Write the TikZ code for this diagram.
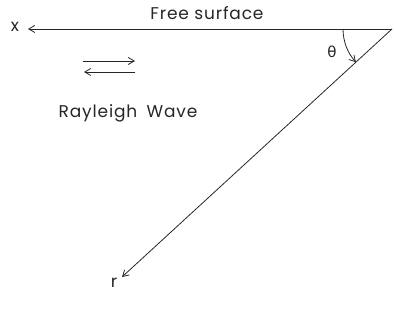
\documentclass[tikz,border=0pt]{standalone}
\usepackage{fontspec}
\setmainfont{Poppins}[LetterSpace=5]
\newfontfamily\greekfont{DejaVu Sans}
\usetikzlibrary{arrows.meta}
\begin{document}
\begin{tikzpicture}[x=1pt,y=-1pt,
  line/.style={line width=0.8pt,draw=black!85},
  tip/.style={-{Straight Barb[length=6pt,width=7pt,line width=0.8pt]}},
  lbl/.style={inner sep=0pt,text=black!85,font=\fontsize{17}{19}\selectfont}]
\useasboundingbox (0,0) rectangle (394,320);
\coordinate (O) at (392,29);
\coordinate (X) at (28,29);
\coordinate (R) at (122,277);
\coordinate (A1) at (83,61);
\coordinate (A2) at (135,61);
\coordinate (B1) at (135,72);
\coordinate (B2) at (84,72);
\node[lbl] (fs) at (207,13) {Free surface};
\node[lbl] (xl) at (15,27) {x};
\node[lbl,font=\greekfont\fontsize{15}{17}\selectfont] (th) at (332,52) {θ};
\node[lbl] (rl) at (114,283) {r};
\node[lbl] (rw) at (128,113) {Rayleigh\hspace{4pt} Wave};
\draw[line,tip] (O) -- (X);
\draw[line,tip] (O) -- (R);
\draw[line,tip] (A1) -- (A2);
\draw[line,tip] (B1) -- (B2);
\draw[line,tip] (O) ++(180:49) arc[start angle=180,end angle=137.4,radius=49];
\end{tikzpicture}
\end{document}
